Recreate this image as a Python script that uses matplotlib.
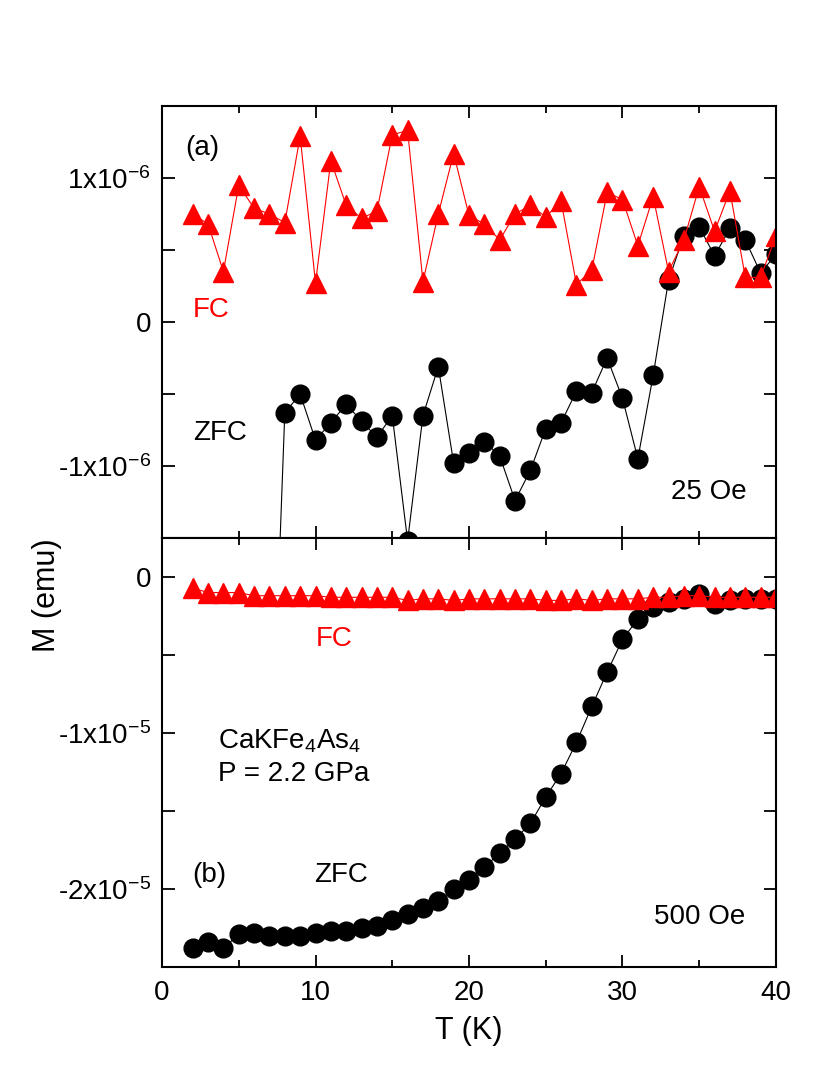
import numpy as np
import matplotlib
matplotlib.use('Agg')
import matplotlib.pyplot as plt

plt.rcParams['font.family'] = ['Liberation Sans', 'DejaVu Sans']
plt.rcParams['mathtext.fontset'] = 'custom'
plt.rcParams['mathtext.rm'] = 'Liberation Sans'
plt.rcParams['mathtext.it'] = 'Liberation Sans'
plt.rcParams['mathtext.default'] = 'regular'
plt.rcParams['axes.unicode_minus'] = False

# (a) 25 Oe, values in units of 1e-6 emu
T_fc_a = list(range(2, 41))
fc_a = [0.75, 0.68, 0.35, 0.95, 0.79, 0.75, 0.69, 1.29, 0.27, 1.12,
        0.81, 0.72, 0.77, 1.30, 1.33, 0.28, 0.75, 1.17, 0.74, 0.68,
        0.57, 0.75, 0.81, 0.73, 0.84, 0.26, 0.36, 0.90, 0.85, 0.53,
        0.87, 0.35, 0.57, 0.94, 0.63, 0.91, 0.31, 0.31, 0.60]
T_zfc_a = list(range(7, 41))
zfc_a = [-3.5, -0.63, -0.50, -0.82, -0.70, -0.57, -0.69, -0.80, -0.65, -1.52,
         -0.65, -0.31, -0.98, -0.91, -0.83, -0.93, -1.24, -1.03, -0.74, -0.70,
         -0.48, -0.49, -0.25, -0.53, -0.95, -0.37, 0.29, 0.60, 0.66, 0.46,
         0.65, 0.57, 0.34, 0.47]

# (b) 500 Oe, values in units of 1e-5 emu
T_b = list(range(2, 41))
fc_b = [-0.07, -0.10, -0.10, -0.10, -0.12, -0.12, -0.12, -0.12, -0.12, -0.13,
        -0.13, -0.13, -0.13, -0.13, -0.15, -0.14, -0.14, -0.15, -0.14, -0.14,
        -0.14, -0.14, -0.14, -0.15, -0.15, -0.14, -0.15, -0.14, -0.14, -0.14,
        -0.13, -0.13, -0.12, -0.12, -0.13, -0.13, -0.13, -0.13, -0.13]
zfc_b = [-2.38, -2.34, -2.38, -2.29, -2.28, -2.30, -2.30, -2.30, -2.28, -2.27,
         -2.27, -2.25, -2.24, -2.20, -2.16, -2.12, -2.08, -2.00, -1.94, -1.86,
         -1.77, -1.68, -1.58, -1.41, -1.26, -1.06, -0.83, -0.61, -0.40, -0.27,
         -0.19, -0.16, -0.14, -0.11, -0.17, -0.15, -0.14, -0.14, -0.14]

fig = plt.figure(figsize=(8.17, 10.76), dpi=100)
ax_a = fig.add_axes([0.1983, 0.5, 0.7515, 0.4015])
ax_b = fig.add_axes([0.1983, 0.1013, 0.7515, 0.3987])

fs = 20
red = '#ff0000'


def style(ax):
    for s in ax.spines.values():
        s.set_linewidth(1.5)
    ax.set_xlim(0, 40)
    ax.set_xticks([0, 10, 20, 30, 40])
    ax.set_xticks([5, 15, 25, 35], minor=True)
    ax.tick_params(axis='x', which='major', direction='in', top=True,
                   length=8.5, width=1.3, labelsize=fs, pad=9)
    ax.tick_params(axis='x', which='minor', direction='in', top=True,
                   length=5, width=1.3)
    ax.tick_params(axis='y', which='both', direction='in', right=True,
                   length=9, width=1.3, labelsize=fs, pad=8)


# panel (a)
ax_a.plot(T_zfc_a, np.array(zfc_a) * 1e-6, color='black', lw=0.8,
          marker='o', ms=13.5, mfc='black', mec='black')
ax_a.plot(T_fc_a, np.array(fc_a) * 1e-6, color=red, lw=0.8,
          marker='^', ms=15, mfc=red, mec=red)
style(ax_a)
ax_a.set_ylim(-1.5e-6, 1.5e-6)
ax_a.set_yticks([-1e-6, 0, 1e-6])
ax_a.set_yticklabels(['-1x10$^{-6}$', '0', '1x10$^{-6}$'])
ax_a.set_yticks([-1.5e-6, -0.5e-6, 0.5e-6, 1.5e-6], minor=True)
ax_a.tick_params(axis='x', labelbottom=False)

ax_a.text(1.5, 1.21e-6, '(a)', fontsize=fs, ha='left', va='center')
ax_a.text(3.2, 0.08e-6, 'FC', fontsize=fs, color=red, ha='center', va='center')
ax_a.text(3.8, -0.77e-6, 'ZFC', fontsize=fs, ha='center', va='center')
ax_a.text(35.6, -1.18e-6, '25 Oe', fontsize=fs, ha='center', va='center')

# panel (b)
ax_b.plot(T_b, np.array(zfc_b) * 1e-5, color='black', lw=0.8,
          marker='o', ms=13.5, mfc='black', mec='black')
ax_b.plot(T_b, np.array(fc_b) * 1e-5, color=red, lw=0.8,
          marker='^', ms=15, mfc=red, mec=red)
style(ax_b)
ax_b.set_ylim(-2.5e-5, 0.25e-5)
ax_b.set_yticks([-2e-5, -1e-5, 0])
ax_b.set_yticklabels(['-2x10$^{-5}$', '-1x10$^{-5}$', '0'])
ax_b.set_yticks([-2.5e-5, -1.5e-5, -0.5e-5], minor=True)

ax_b.text(11.2, -0.40e-5, 'FC', fontsize=fs, color=red, ha='center', va='center')
ax_b.text(3.65, -1.10e-5, 'CaKFe$_4$As$_4$', fontsize=fs, ha='left', va='baseline')
ax_b.text(3.65, -1.31e-5, 'P = 2.2 GPa', fontsize=fs, ha='left', va='baseline')
ax_b.text(3.1, -1.91e-5, '(b)', fontsize=fs, ha='center', va='center')
ax_b.text(11.66, -1.91e-5, 'ZFC', fontsize=fs, ha='center', va='center')
ax_b.text(35.05, -2.18e-5, '500 Oe', fontsize=fs, ha='center', va='center')

fig.text(469 / 817, 1 - 1031 / 1076, 'T (K)', fontsize=22, ha='center', va='center')
fig.text(47 / 817, 1 - 595 / 1076, 'M (emu)', fontsize=22, rotation=90,
         ha='center', va='center')

fig.savefig('out.png', dpi=100)
